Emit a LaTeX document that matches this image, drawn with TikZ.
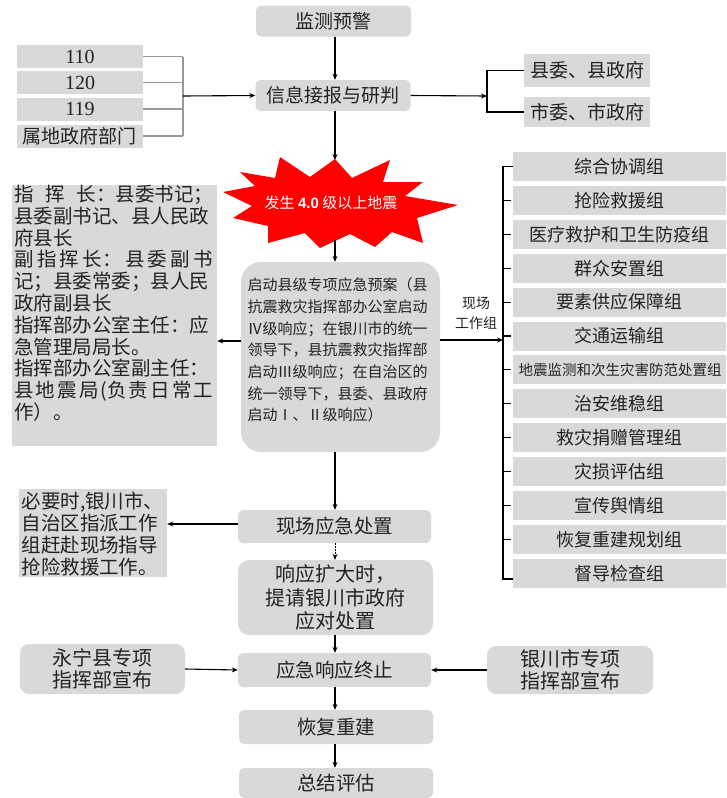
\documentclass[tikz,border=0pt]{standalone}
\usepackage{fontspec}
\setmainfont{Liberation Serif}
\newfontfamily\cjk{Noto Sans CJK SC}
\newfontfamily\arialf{Liberation Sans}
\usetikzlibrary{arrows.meta}
\definecolor{boxgray}{HTML}{D9D9D9}
\definecolor{txt}{HTML}{222222}
\definecolor{starred}{HTML}{FF0000}
\newcommand\myfs[2]{\fontsize{#1}{#2}\selectfont}
\newcommand\jline[1]{\leavevmode\hbox to 199pt{#1}}
\begin{document}
\begin{tikzpicture}[x=1pt,y=-1pt,
  gbox/.style={fill=boxgray, draw=none, inner sep=0pt, text=txt, align=center},
  rbox/.style={gbox, rounded corners=5pt},
  arr/.style={-{Stealth[length=6pt,width=5pt]}, line width=1.1pt},
  ln/.style={line width=1.1pt},
  brk/.style={line width=1.2pt, draw=black!40}]
\useasboundingbox (0,0) rectangle (726,798);
\coordinate (col) at (335,0);
% top
\node[rbox, minimum width=155, minimum height=31, font=\cjk\myfs{19}{22}] (jc) at (333.5,21) {监测预警};
\node[rbox, minimum width=155, minimum height=31, font=\cjk\myfs{19}{22}] (xx) at (333,95.5) {信息接报与研判};
\draw[arr] (jc.south -| col) -- (xx.north -| col);
% sources
\node[gbox, minimum width=126, minimum height=23, font=\myfs{20}{22}] (n110) at (80,56.5) {110};
\node[gbox, minimum width=126, minimum height=23, font=\myfs{20}{22}] (n120) at (80,82.5) {120};
\node[gbox, minimum width=126, minimum height=23, font=\myfs{20}{22}] (n119) at (80,109) {119};
\node[gbox, minimum width=126, minimum height=23, font=\cjk\myfs{19}{22}] (nsd) at (80,136) {属地政府部门};
\coordinate (brx) at (183,96);
\foreach \n in {n110,n120,n119,nsd} \draw[brk] (\n.east) -- (\n.east -| brx);
\draw[brk] (n110.east -| brx) -- (nsd.east -| brx);
\draw[arr] (brx) -- (xx.west);
% report to
\node[gbox, minimum width=126, minimum height=33, font=\cjk\myfs{19}{22}] (xw1) at (587,70.5) {县委、县政府};
\node[gbox, minimum width=126, minimum height=30, font=\cjk\myfs{19}{22}] (xw2) at (587,112) {市委、市政府};
\coordinate (rsp) at (487,96);
\draw[arr] (xx.east) -- (rsp);
\draw[ln] (xw1.west) -| (rsp) |- (xw2.west);
% star
\fill[starred] (335,159) -- (352,178) -- (390,160) -- (383,182) -- (423,182) -- (405,196) -- (458,205) -- (417,218) -- (423,243) -- (392,232) -- (375,247) -- (350,234) -- (320,248) -- (305,233) -- (268,243) -- (268,226) -- (233,218) -- (252,206) -- (223,192) -- (255,186) -- (240,172) -- (275,178) -- (280,157) -- (310,177) -- cycle;
\node[inner sep=0, text=white, font=\cjk\myfs{15}{18}] (star) at (331,203) {发生 {\arialf\bfseries 4.0} 级以上地震};
\coordinate (sttop) at (335,160);
\coordinate (stbot) at (335,240);
\draw[arr] (xx.south -| col) -- (sttop);
% big box
\node[rbox, rounded corners=20pt, minimum width=199, minimum height=190] (big) at (340.5,357) {};
\node[inner sep=0, text width=183, align=left, text=txt, font=\cjk\myfs{15}{21.7}] (bigt) at (339,350) {启动县级专项应急预案（县\\抗震救灾指挥部办公室启动\\Ⅳ级响应；在银川市的统一\\领导下，县抗震救灾指挥部\\启动Ⅲ级响应；在自治区的\\统一领导下，县委、县政府\\启动Ⅰ、Ⅱ级响应）};
\draw[arr] (stbot) -- (big.north -| col);
% left command box
\node[gbox, minimum width=205, minimum height=261] (lbox) at (114.5,315.5) {};
\coordinate (lin) at (0,341);
\draw[arr] (big.west |- lin) -- (lbox.east |- lin);
\node[anchor=north west, inner sep=0, text width=200, align=left, text=txt, font=\cjk\myfs{19.5}{21.8}] (lboxt) at (14,185) {\jline{指\hfil 挥\hfil 长：县委书记；}\\县委副书记、县人民政\\府县长\\\jline{副\hfil 指\hfil 挥\hfil 长：\hfil 县\hfil 委\hfil 副\hfil 书}\\记；县委常委；县人民\\政府副县长\\指挥部办公室主任：应\\急管理局局长。\\指挥部办公室副主任：\\\jline{县\hfil 地\hfil 震\hfil 局\hfil (负\hfil 责\hfil 日\hfil 常\hfil 工}\\作）。};
% groups
\foreach \i/\t in {1/综合协调组,2/抢险救援组,3/医疗救护和卫生防疫组,4/群众安置组,5/要素供应保障组,6/交通运输组,8/治安维稳组,9/救灾捐赠管理组,10/灾损评估组,11/宣传舆情组,12/恢复重建规划组,13/督导检查组}
  \node[gbox, minimum width=213, minimum height=29, font=\cjk\myfs{18}{20}] (g\i) at (619.5,{166.5+(\i-1)*33.9}) {\t};
\node[gbox, minimum width=213, minimum height=29] (g7) at (619.5,{166.5+6*33.9}) {};
\node[inner sep=0, text=txt, font=\cjk\myfs{14.5}{18}] (g7t) at (620,{166.5+6*33.9}) {地震监测和次生灾害防范处置组};
\coordinate (gtop) at (503,163);
\coordinate (gbot) at (503,579);
\draw[ln] (g1.west) -- (g1.west -| gtop) -- (gbot) -- (gbot -| g13.west);
\foreach \i in {2,...,12} \draw[ln] ([xshift=-10pt]g\i.west) -- ([xshift=-2pt]g\i.west);
\coordinate (gin) at (503,340);
\draw[arr] (big.east |- gin) -- (gin);
\node[inner sep=0, align=center, text=txt, font=\cjk\myfs{14}{20}] (xcl) at (476,313) {现场\\工作组};
% bottom flow
\node[rbox, minimum width=193, minimum height=33, font=\cjk\myfs{19.5}{22}] (xc) at (334.5,526.5) {现场应急处置};
\draw[arr] (big.south -| col) -- (xc.north -| col);
\node[gbox, minimum width=148, minimum height=88] (bz) at (93,533) {};
\node[inner sep=0, text width=145, align=left, text=txt, font=\cjk\myfs{19.5}{21.7}] (bzt) at (94,534) {必要时,银川市、\\自治区指派工作\\组赶赴现场指导\\抢险救援工作。};
\coordinate (bzy) at (0,524);
\draw[arr] (xc.west |- bzy) -- (bz.east |- bzy);
\node[rbox, rounded corners=11pt, minimum width=195, minimum height=75, font=\cjk\myfs{20}{23.5}] (xy) at (335.5,597.5) {响应扩大时，\\提请银川市政府\\应对处置};
\draw[arr, line width=0.8pt, dash pattern=on 1.5pt off 1.5pt] (xc.south -| col) -- (xy.north -| col);
\node[rbox, minimum width=193, minimum height=34, font=\cjk\myfs{19.5}{22}] (zz) at (334.5,670) {应急响应终止};
\draw[arr] (xy.south -| col) -- (zz.north -| col);
\node[rbox, rounded corners=9pt, minimum width=165, minimum height=50, font=\cjk\myfs{20}{22}] (yn) at (102.5,669) {永宁县专项\\指挥部宣布};
\node[rbox, rounded corners=9pt, minimum width=166, minimum height=48, font=\cjk\myfs{20}{22}] (yc) at (570,670) {银川市专项\\指挥部宣布};
\draw[arr] (yn.east) -- (zz.west);
\draw[arr] (yc.west) -- (zz.east);
\node[rbox, minimum width=194, minimum height=34, font=\cjk\myfs{19.5}{22}] (hf) at (336,727) {恢复重建};
\draw[arr] (zz.south -| col) -- (hf.north -| col);
\node[rbox, minimum width=194, minimum height=30, font=\cjk\myfs{19.5}{22}] (zj) at (336,783) {总结评估};
\draw[arr] (hf.south -| col) -- (zj.north -| col);
\end{tikzpicture}
\end{document}
